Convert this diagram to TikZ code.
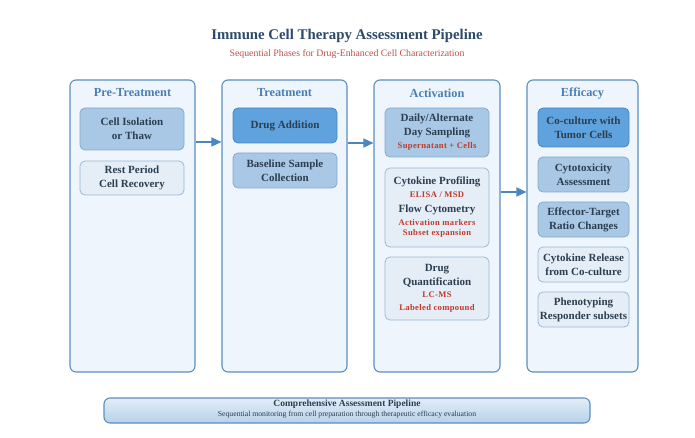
\documentclass[tikz,border=0pt]{standalone}
\usepackage{fontspec}
\setmainfont{Liberation Serif}
\usetikzlibrary{arrows.meta,calc}
\definecolor{phasefill}{HTML}{EEF5FC}
\definecolor{phaseline}{HTML}{5B8FC0}
\definecolor{phasetitle}{HTML}{4A7FB5}
\definecolor{darkfill}{HTML}{5FA2DD}
\definecolor{darkline}{HTML}{4A88C4}
\definecolor{medfill}{HTML}{A9C8E5}
\definecolor{medline}{HTML}{84A9CF}
\definecolor{lightfill}{HTML}{E5EEF7}
\definecolor{lightline}{HTML}{9BB8D6}
\definecolor{txt}{HTML}{2C3E50}
\definecolor{redtxt}{HTML}{C0392B}
\definecolor{subred}{HTML}{C0504D}
\definecolor{titlecol}{HTML}{2E4A6B}
\definecolor{arrowcol}{HTML}{4A86C0}
\definecolor{sumtop}{HTML}{E3EDF7}
\definecolor{sumbot}{HTML}{B7D1EA}
\newcommand\rdt[1]{{\fontsize{8.6}{10}\selectfont\bfseries\addfontfeature{LetterSpace=4}\color{redtxt}#1}}
\tikzset{
  x=1pt, y=-1pt,
  phasebox/.style={draw=phaseline, line width=1.1pt, fill=phasefill, rounded corners=6pt, inner sep=0pt},
  phasetitle/.style={font=\fontsize{12.3}{14}\selectfont\bfseries, text=phasetitle},
  stepbase/.style={rounded corners=5pt, line width=0.8pt, inner sep=0pt, align=center,
     font=\fontsize{11}{14}\selectfont\bfseries, text=txt},
  darkstep/.style={stepbase, draw=darkline, fill=darkfill},
  medstep/.style={stepbase, draw=medline, fill=medfill},
  lightstep/.style={stepbase, draw=lightline, fill=lightfill},
  arr/.style={draw=arrowcol, line width=1.4pt, -{Triangle[length=10pt,width=9pt]}},
}
\begin{document}
\begin{tikzpicture}
\useasboundingbox (0,0) rectangle (695,438);
\fill[white] (0,0) rectangle (695,438);

% titles
\node[font=\fontsize{14.8}{17}\selectfont\bfseries, text=titlecol] (title) at (347,36) {Immune Cell Therapy Assessment Pipeline};
\node[font=\fontsize{9.8}{11}\selectfont, text=subred] (subtitle) at (347,54) {Sequential Phases for Drug-Enhanced Cell Characterization};

% phase containers
\node[phasebox, minimum width=125pt, minimum height=292pt] (p1) at (132.5,226) {};
\node[phasebox, minimum width=125pt, minimum height=292pt] (p2) at (284.5,226) {};
\node[phasebox, minimum width=126pt, minimum height=292pt] (p3) at (437,226) {};
\node[phasebox, minimum width=111pt, minimum height=292pt] (p4) at (582.5,226) {};

\node[phasetitle] (t1) at (132.5,93) {Pre-Treatment};
\node[phasetitle] (t2) at (284.5,93) {Treatment};
\node[phasetitle] (t3) at (437,93) {Activation};
\node[phasetitle] (t4) at (582.5,93) {Efficacy};

% Pre-Treatment
\node[medstep, minimum width=104pt, minimum height=42pt] (iso) at (132,129) {Cell Isolation\\or Thaw};
\node[lightstep, minimum width=104pt, minimum height=34pt] (rest) at (132,178) {Rest Period\\Cell Recovery};

% Treatment
\node[darkstep, minimum width=104pt, minimum height=35pt] (drug) at (285,125.5) {Drug Addition};
\node[medstep, minimum width=104pt, minimum height=35pt] (base) at (285,170.5) {Baseline Sample\\Collection};

% Activation
\node[medstep, minimum width=104pt, minimum height=49pt] (daily) at (437,132.5) {Daily/Alternate\\Day Sampling\\[-1pt]\rdt{Supernatant + Cells}};
\node[lightstep, minimum width=104pt, minimum height=79pt] (cyto) at (437,207.5) {Cytokine Profiling\\[-1pt]\rdt{ELISA / MSD}\\[1pt]Flow Cytometry\\[-1pt]\rdt{Activation markers}\\[-4pt]\rdt{Subset expansion}};
\node[lightstep, minimum width=104pt, minimum height=63pt] (quant) at (437,288.5) {Drug\\Quantification\\[-2pt]\rdt{LC-MS}\\[-1pt]\rdt{Labeled compound}};

% Efficacy
\node[darkstep, minimum width=91pt, minimum height=39pt] (cocul) at (583.5,127.5) {Co-culture with\\Tumor Cells};
\node[medstep, minimum width=91pt, minimum height=35pt] (tox) at (583.5,174.5) {Cytotoxicity\\Assessment};
\node[medstep, minimum width=91pt, minimum height=35pt] (et) at (583.5,219.5) {Effector-Target\\Ratio Changes};
\node[lightstep, minimum width=91pt, minimum height=35pt] (rel) at (583.5,264.5) {Cytokine Release\\from Co-culture};
\node[lightstep, minimum width=91pt, minimum height=35pt] (pheno) at (583.5,309.5) {Phenotyping\\Responder subsets};

% arrows between phases
\draw[arr] (p1.east |- 0,142) -- (p2.west |- 0,142);
\draw[arr] (p2.east |- 0,143) -- (p3.west |- 0,143);
\draw[arr] (p3.east |- 0,192) -- (p4.west |- 0,192);

% bottom summary
\node[draw=phaseline, line width=1.1pt, rounded corners=6pt, top color=sumtop, bottom color=sumbot,
      minimum width=486pt, minimum height=25pt, inner sep=0pt] (summary) at (347,410.5) {};
\node[font=\fontsize{9.5}{11}\selectfont\bfseries, text=txt] (sumtitle) at (347,404) {Comprehensive Assessment Pipeline};
\node[font=\fontsize{7.7}{9}\selectfont, text=txt] (sumtext) at (347,415) {Sequential monitoring from cell preparation through therapeutic efficacy evaluation};
\end{tikzpicture}
\end{document}
